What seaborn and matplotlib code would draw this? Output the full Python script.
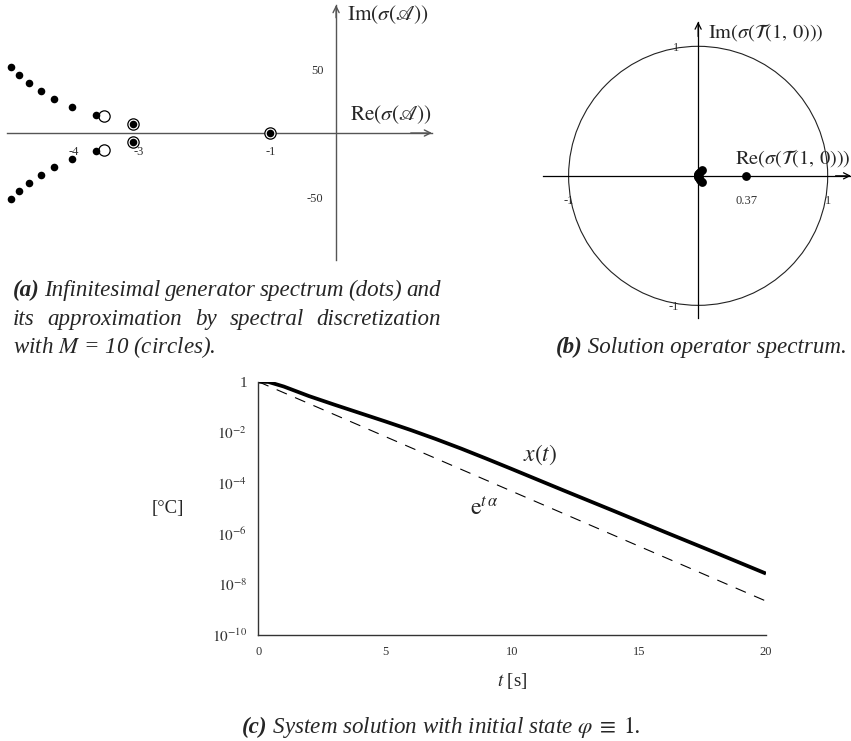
import math

import matplotlib
matplotlib.use("Agg")
import matplotlib.pyplot as plt
from matplotlib.patches import Circle
from matplotlib.ticker import FixedLocator, FuncFormatter, LogLocator, NullFormatter
import pandas as pd
import seaborn as sns

# ---------------------------------------------------------------- data
# (a) eigenvalues of the infinitesimal generator (upper half plane, conjugates mirrored)
gen_re = [-1.0, -3.085, -3.66, -4.02, -4.29, -4.49, -4.67, -4.82, -4.95]
gen_im = [0.0, 7.3, 13.8, 20.1, 26.3, 32.8, 39.1, 45.3, 51.6]
# (a) eigenvalues of the spectral discretization with M = 10
disc_re = [-1.0, -3.085, -3.53]
disc_im = [0.0, 7.3, 13.3]
a_xticks = [-4, -3, -2, -1]
a_xlabels = ["-4", "-3", "", "-1"]
a_yticks = [-50, 50]
a_ylabels = ["-50", "50"]

# (b) eigenvalues of the solution operator T(1, 0)
op_re = [0.37, 0.026, 0.014, 0.006, 0.001, -0.004]
op_im = [0.0, 0.046, 0.032, 0.020, 0.012, 0.004]
b_xticks = [-1, 0.37, 1]
b_xlabels = ["-1", "0.37", "1"]
b_yticks = [-1, 1]
b_ylabels = ["-1", "1"]

# (c) system solution x(t) and the reference exponential e^{t alpha}
t_sol = [0, 0.4, 1, 1.5, 2, 3, 4, 5, 6, 7, 8, 9, 10, 12, 14, 16, 18, 20]
x_sol = [1.0, 0.977, 0.646, 0.417, 0.269, 0.123, 5.75e-2, 2.69e-2, 1.23e-2,
         5.37e-3, 2.24e-3, 8.91e-4, 3.47e-4, 5.13e-5, 7.76e-6, 1.15e-6,
         1.74e-7, 2.57e-8]
t_exp = [0, 20]
x_exp = [1.0, 2.1e-9]
c_xticks = [0, 5, 10, 15, 20]

# ---------------------------------------------------------------- style
sns.set_style("white")
plt.rcParams["font.family"] = ["Liberation Serif", "DejaVu Serif"]
plt.rcParams["mathtext.fontset"] = "stix"
plt.rcParams["axes.unicode_minus"] = False

W, H = 851, 741
fig = plt.figure(figsize=(W / 100, H / 100), dpi=100)
fig.patch.set_facecolor("white")


def px_axes(left, top, right, bottom):
    return fig.add_axes([left / W, 1 - bottom / H, (right - left) / W, (bottom - top) / H])


def fig_text(x, y, s, **kw):
    return fig.text(x / W, 1 - y / H, s, **kw)


def cross_axes(ax, color, lw):
    """Axis lines through the origin with arrow heads."""
    for side in ("top", "right"):
        ax.spines[side].set_visible(False)
    for side in ("left", "bottom"):
        ax.spines[side].set_position(("data", 0))
        ax.spines[side].set_color(color)
        ax.spines[side].set_linewidth(lw)
    arrow = dict(arrowstyle="->", color=color, lw=lw, shrinkA=0, shrinkB=0,
                 mutation_scale=11)
    ax.annotate("", xy=(1.0, 0), xytext=(0.95, 0), xycoords=("axes fraction", "data"),
                textcoords=("axes fraction", "data"), arrowprops=arrow)
    ax.annotate("", xy=(0, 1.0), xytext=(0, 0.95), xycoords=("data", "axes fraction"),
                textcoords=("data", "axes fraction"), arrowprops=arrow)
    ax.set_facecolor("none")


# ---------------------------------------------------------------- (a)
ax_a = px_axes(7, 5, 432, 260)
ax_a.set_xlim(-5.01, 1.46)
ax_a.set_ylim(-99.2, 100)
cross_axes(ax_a, "#555555", 1.0)

gen = pd.DataFrame({"re": gen_re + gen_re[1:],
                    "im": gen_im + [-v for v in gen_im[1:]]})
disc = pd.DataFrame({"re": disc_re + disc_re[1:],
                     "im": disc_im + [-v for v in disc_im[1:]]})
sns.scatterplot(data=disc, x="re", y="im", ax=ax_a, s=66, color="white",
                edgecolor="black", linewidth=0.9, zorder=3, clip_on=False)
sns.scatterplot(data=gen, x="re", y="im", ax=ax_a, s=30, color="black",
                edgecolor="black", linewidth=0, zorder=4)
ax_a.set_xlabel("")
ax_a.set_ylabel("")
ax_a.set_xticks(a_xticks, a_xlabels)
ax_a.set_yticks(a_yticks, a_ylabels)
ax_a.tick_params(direction="inout", length=8, width=0.8, color="#777777",
                 labelsize=9, labelcolor="#333333")
ax_a.tick_params(axis="x", pad=5)
ax_a.tick_params(axis="y", pad=5)
fig_text(432, 115, r"$\mathrm{Re}(\sigma(\mathscr{A}))$", ha="right", va="center", size=15.3)
fig_text(347, 15, r"$\mathrm{Im}(\sigma(\mathscr{A}))$", ha="left", va="center", size=15.3)

# ---------------------------------------------------------------- (b)
ax_b = px_axes(542.7, 21.7, 851, 318.3)
ax_b.set_xlim(-1.2, 1.18)
ax_b.set_ylim(-1.1, 1.19)
cross_axes(ax_b, "black", 0.9)
ax_b.add_patch(Circle((0, 0), 1.0, fill=False, lw=0.8, color="#222222", zorder=2))
op = pd.DataFrame({"re": op_re + op_re[1:],
                   "im": op_im + [-v for v in op_im[1:]]})
sns.scatterplot(data=op, x="re", y="im", ax=ax_b, s=40, color="black",
                edgecolor="black", linewidth=0, zorder=4)
ax_b.set_xlabel("")
ax_b.set_ylabel("")
ax_b.set_xticks(b_xticks, b_xlabels)
ax_b.set_yticks(b_yticks, b_ylabels)
ax_b.tick_params(length=0, labelsize=9, labelcolor="#333333")
ax_b.tick_params(axis="x", pad=14)
ax_b.tick_params(axis="y", pad=14)
fig_text(735, 158, r"$\mathrm{Re}(\sigma(\mathcal{T}(1,\,0)))$", ha="left", va="center", size=14.7)
fig_text(708, 32, r"$\mathrm{Im}(\sigma(\mathcal{T}(1,\,0)))$", ha="left", va="center", size=14.7)

# ---------------------------------------------------------------- (c)
ax_c = px_axes(258.3, 381.7, 766, 634.5)
sol = pd.DataFrame({"t": t_sol, "x": x_sol})
ref = pd.DataFrame({"t": t_exp, "x": x_exp})
sns.lineplot(data=sol, x="t", y="x", ax=ax_c, color="black", lw=2.7,
             solid_capstyle="butt", solid_joinstyle="round", estimator=None, sort=False)
sns.lineplot(data=ref, x="t", y="x", ax=ax_c, color="black", lw=0.8,
             linestyle=(0, (10, 8)), estimator=None, sort=False)
ax_c.set_yscale("log")
ax_c.set_xlim(0, 20)
ax_c.set_ylim(1e-10, 1)
for side in ("top", "right"):
    ax_c.spines[side].set_visible(False)
for side in ("left", "bottom"):
    ax_c.spines[side].set_color("#333333")
    ax_c.spines[side].set_linewidth(1.0)
ax_c.xaxis.set_major_locator(FixedLocator(c_xticks))
ax_c.yaxis.set_major_locator(LogLocator(base=10, numticks=20))
ax_c.yaxis.set_minor_locator(LogLocator(base=10, subs=range(2, 10), numticks=200))
ax_c.yaxis.set_minor_formatter(NullFormatter())


def decade_label(v, _pos):
    e = int(round(math.log10(v)))
    if e == 0:
        return "1"
    if e % 2 == 0:
        return rf"$10^{{{e}}}$"
    return ""


ax_c.yaxis.set_major_formatter(FuncFormatter(decade_label))
ax_c.tick_params(axis="x", direction="in", length=8, width=1.0, color="#aaaaaa",
                 labelsize=9, labelcolor="#333333", pad=8)
ax_c.tick_params(axis="y", which="major", direction="in", length=9, width=0.9,
                 color="#555555", labelsize=11, labelcolor="#333333", pad=8)
ax_c.tick_params(axis="y", which="minor", direction="in", length=5.5, width=0.8,
                 color="#999999")
ax_c.set_xlabel(r"$t$ [s]", size=13.5)
ax_c.xaxis.set_label_coords(0.5, -0.145)
ax_c.set_ylabel("[°C]", rotation=0, size=13.5, ha="center", va="center")
ax_c.yaxis.set_label_coords(-0.178, 0.5)
ax_c.text(11.1, 1.26e-3, r"$x(t)$", ha="center", va="center", size=17)
ax_c.text(8.9, 1.0e-5, r"$\mathrm{e}^{t\,\alpha}$", ha="center", va="center", size=17)

# ---------------------------------------------------------------- captions
renderer = fig.canvas.get_renderer()
CAP = dict(family="Liberation Serif", style="italic")

probe = fig.text(0, 0, "(a) Infinitesimal generator spectrum (dots) and", size=10, **CAP)
cap_size = 10 * 436 / probe.get_window_extent(renderer).width
probe.remove()


def justified(words, x0, x1, baseline):
    arts = []
    for txt, weight in words:
        arts.append(fig_text(0, baseline, txt, size=cap_size, weight=weight,
                             va="baseline", ha="left", **CAP))
    widths = [a.get_window_extent(renderer).width for a in arts]
    gap = (x1 - x0 - sum(widths)) / (len(arts) - 1)
    x = x0
    for a, w in zip(arts, widths):
        a.set_x(x / W)
        x += w + gap


justified([("(a)", "bold"), ("Infinitesimal", "normal"), ("generator", "normal"),
           ("spectrum", "normal"), ("(dots)", "normal"), ("and", "normal")],
          13, 441, 296)
justified([("its", "normal"), ("approximation", "normal"), ("by", "normal"),
           ("spectral", "normal"), ("discretization", "normal")],
          13, 441, 325)
fig_text(13, 353, r"with $M$ = 10 (circles).", size=cap_size, va="baseline", ha="left", **CAP)


def labelled_caption(x, baseline, tag, rest, ha):
    """Bold tag followed by the italic caption text."""
    t1 = fig_text(0, baseline, tag, size=cap_size, weight="bold", va="baseline", **CAP)
    t2 = fig_text(0, baseline, " " + rest, size=cap_size, va="baseline", **CAP)
    w1 = t1.get_window_extent(renderer).width
    w2 = t2.get_window_extent(renderer).width
    total = w1 + w2
    left = {"left": x, "right": x - total, "center": x - total / 2}[ha]
    t1.set_x(left / W)
    t2.set_x((left + w1) / W)


labelled_caption(847, 353, "(b)", "Solution operator spectrum.", "right")
labelled_caption(441, 733, "(c)",
                 r"System solution with initial state $\varphi\;\equiv\;1$.", "center")

fig.savefig("out.png", dpi=100)
